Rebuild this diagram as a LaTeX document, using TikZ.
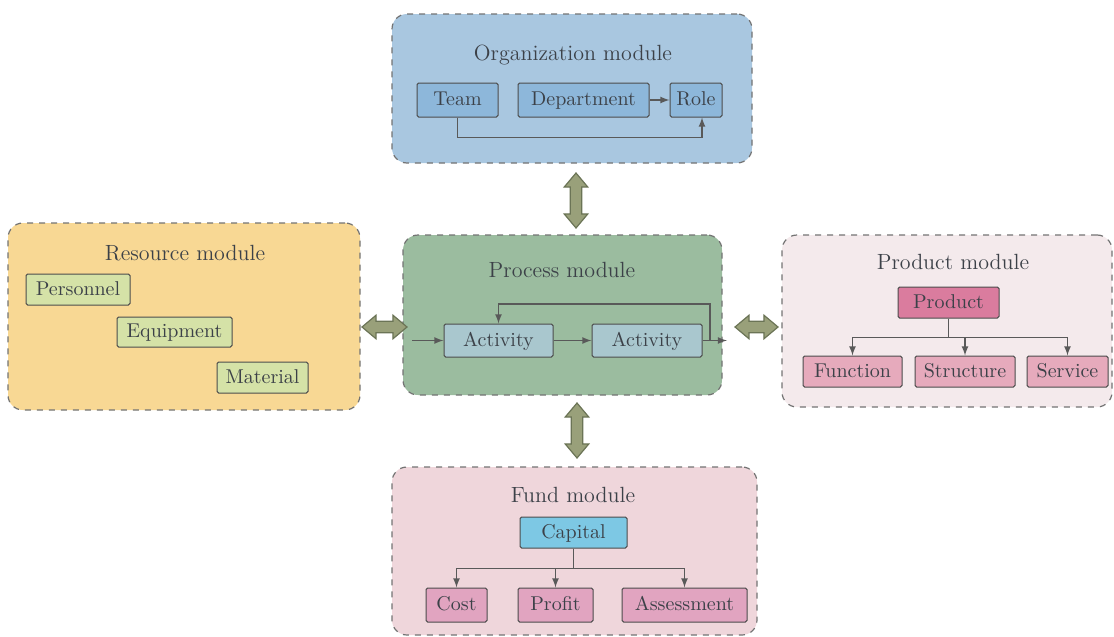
\documentclass[tikz,border=0pt]{standalone}
\usetikzlibrary{shapes.arrows}
\definecolor{OrgFill}{HTML}{A9C7E0}
\definecolor{OrgBox}{HTML}{8DB7DA}
\definecolor{ProcFill}{HTML}{9BBC9F}
\definecolor{ActBox}{HTML}{A9C7CE}
\definecolor{ResFill}{HTML}{F8D894}
\definecolor{ResBox}{HTML}{D5E2A7}
\definecolor{ProdFill}{HTML}{F4EAEC}
\definecolor{ProdMain}{HTML}{DA7C9E}
\definecolor{ProdBox}{HTML}{E6AABC}
\definecolor{FundFill}{HTML}{EFD6DB}
\definecolor{CapBox}{HTML}{7DC8E4}
\definecolor{FundBox}{HTML}{E1A4C0}
\definecolor{BigArrowFill}{HTML}{99A07A}
\definecolor{BigArrowDraw}{HTML}{6B7456}
\definecolor{TextGray}{HTML}{3C4148}
\begin{document}
\begin{tikzpicture}[x=0.5pt,y=-0.5pt,
    module/.style={shape=rectangle, draw=black!55, dashed, line width=0.6pt, rounded corners=7.5pt},
    title/.style={text=TextGray, font=\fontsize{11}{13}\selectfont},
    item/.style={shape=rectangle, draw=black!70, line width=0.5pt, text=TextGray, inner sep=1pt, rounded corners=0.8pt, minimum height=16pt, text height=1.6ex, text depth=0.3ex},
    flow/.style={draw=black!65, line width=0.6pt, -latex},
    bigarrow/.style={shape=double arrow, draw=BigArrowDraw, fill=BigArrowFill, line width=0.6pt, inner sep=2.6pt, double arrow head extend=3pt, double arrow tip angle=80, minimum height=27.5pt}]
    \useasboundingbox (0,0) rectangle (1114,637);
    \node (OrgModule) [module, fill=OrgFill, minimum width=180pt, minimum height=74.5pt] at (572, 88.5) {};
    \node (OrgTitle) [title] at (573, 55) {Organization module};
    \node (Team) [item, fill=OrgBox, minimum width=40.5pt, minimum height=17pt] at (457.5, 100) {Team};
    \node (Department) [item, fill=OrgBox, minimum width=65.5pt, minimum height=17pt] at (583.5, 100) {Department};
    \node (Role) [item, fill=OrgBox, minimum width=26pt, minimum height=17pt] at (696, 100) {Role};
    \draw [flow] (Department) -- (Role);
    \draw [flow] (Team.south) -- ++(0, 20) -| ([xshift=3pt]Role.south);

    \node (ResModule) [module, fill=ResFill, minimum width=176pt, minimum height=93.5pt] at (184, 316.5) {};
    \node (ResTitle) [title] at (185, 253) {Resource module};
    \node (Personnel) [item, fill=ResBox, minimum width=52pt, minimum height=15.5pt] at (78, 289.5) {Personnel};
    \node (Equipment) [item, fill=ResBox, minimum width=57.5pt, minimum height=15pt] at (174.5, 332) {Equipment};
    \node (Material) [item, fill=ResBox, minimum width=45.5pt, minimum height=15.5pt] at (262.5, 377.5) {Material};

    \node (ProcModule) [module, fill=ProcFill, minimum width=159.5pt, minimum height=80pt] at (562.5, 315) {};
    \node (ProcTitle) [title] at (562, 270) {Process module};
    \node (FirstActivity) [item, fill=ActBox, minimum width=54.5pt, minimum height=16.5pt] at (498.5, 340.5) {Activity};
    \node (SecondActivity) [item, fill=ActBox, minimum width=55pt, minimum height=16.5pt] at (647, 340.5) {Activity};
    \coordinate (ProcIn) at (412, 340.5);
    \coordinate (ProcOut) at (727, 340.5);
    \coordinate (LoopStart) at (710, 340.5);
    \draw [flow] (ProcIn) -- (FirstActivity);
    \draw [flow] (FirstActivity) -- (SecondActivity);
    \draw [flow] (SecondActivity) -- (ProcOut);
    \draw [flow] (LoopStart) -- ++(0, -36.5) -| (FirstActivity.north);

    \node (ProdModule) [module, fill=ProdFill, minimum width=165pt, minimum height=86pt] at (947, 321) {};
    \node (ProdTitle) [title] at (953, 262) {Product module};
    \node (Product) [item, fill=ProdMain, minimum width=50.5pt, minimum height=15.5pt] at (948.5, 302.5) {Product};
    \node (Function) [item, fill=ProdBox, minimum width=49.5pt, minimum height=15.5pt] at (852.5, 371.5) {Function};
    \node (Structure) [item, fill=ProdBox, minimum width=50pt, minimum height=15.5pt] at (965, 371.5) {Structure};
    \node (Service) [item, fill=ProdBox, minimum width=40.5pt, minimum height=15.5pt] at (1067.5, 371.5) {Service};
    \draw [flow] (Product.south) -- ++(0, 19) -| (Function.north);
    \draw [flow] (Product.south) -- ++(0, 19) -| (Structure.north);
    \draw [flow] (Product.south) -- ++(0, 19) -| (Service.north);

    \node (FundModule) [module, fill=FundFill, minimum width=182.5pt, minimum height=84pt] at (574.5, 551) {};
    \node (FundTitle) [title] at (573, 495) {Fund module};
    \node (Capital) [item, fill=CapBox, minimum width=53.5pt, minimum height=15.5pt] at (573.5, 532.5) {Capital};
    \node (Cost) [item, fill=FundBox, minimum width=30.5pt, minimum height=17pt] at (456.5, 605) {Cost};
    \node (Profit) [item, fill=FundBox, minimum width=37.5pt, minimum height=17pt] at (555.5, 605) {Profit};
    \node (Assessment) [item, fill=FundBox, minimum width=62.5pt, minimum height=17pt] at (684.5, 605) {Assessment};
    \draw [flow] (Capital.south) -- ++(0, 20) -| (Cost.north);
    \draw [flow] (Capital.south) -- ++(0, 20) -| (Profit.north);
    \draw [flow] (Capital.south) -- ++(0, 20) -| (Assessment.north);

    \node (OrgProcLink) [bigarrow, rotate=90] at (576, 200.5) {};
    \node (ProcFundLink) [bigarrow, rotate=90] at (577, 430.5) {};
    \node (ResProcLink) [bigarrow, minimum height=22.5pt] at (384.5, 327) {};
    \node (ProcProdLink) [bigarrow, minimum height=21.5pt] at (756.5, 327) {};
\end{tikzpicture}
\end{document}
